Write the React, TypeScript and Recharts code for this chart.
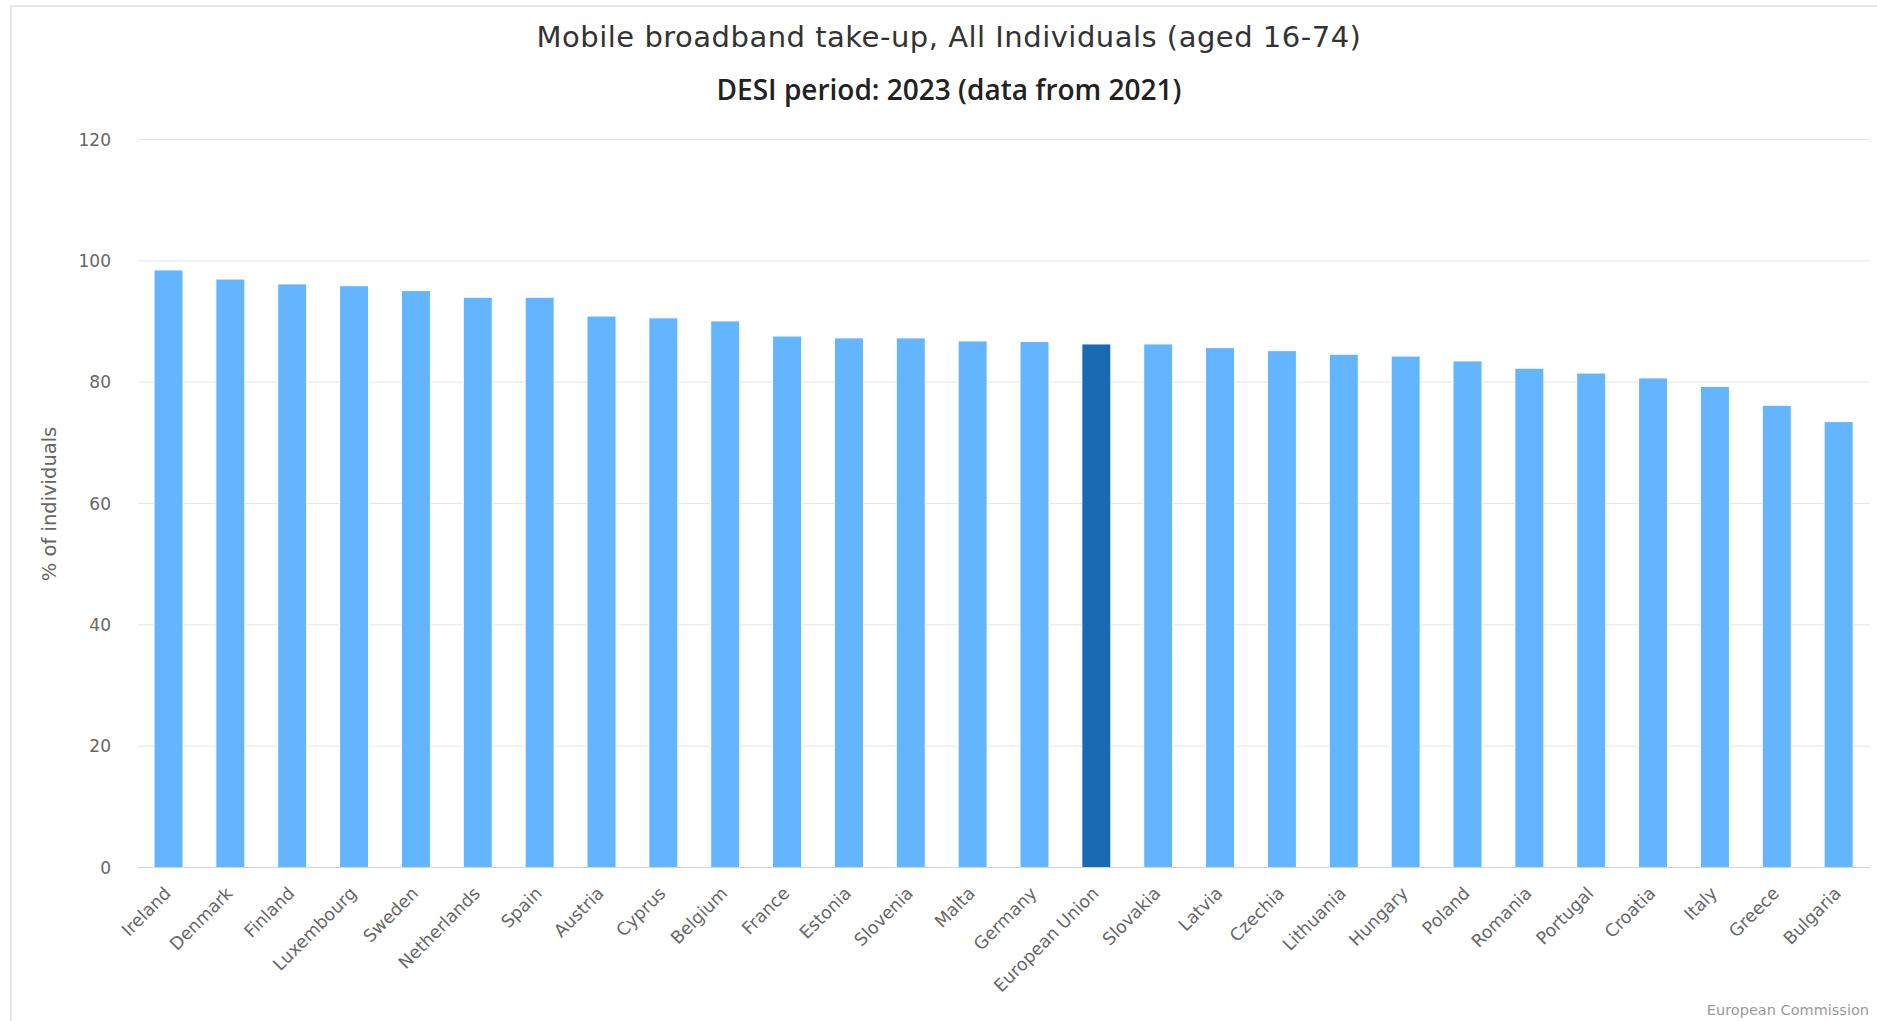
import { Bar, BarChart, CartesianGrid, Cell, XAxis, YAxis } from "recharts"

const countries = [
  "Ireland", "Denmark", "Finland", "Luxembourg", "Sweden", "Netherlands", "Spain",
  "Austria", "Cyprus", "Belgium", "France", "Estonia", "Slovenia", "Malta", "Germany",
  "European Union", "Slovakia", "Latvia", "Czechia", "Lithuania", "Hungary", "Poland",
  "Romania", "Portugal", "Croatia", "Italy", "Greece", "Bulgaria",
]

const takeUp = [
  98.5, 97.0, 96.2, 95.9, 95.1, 94.0, 94.0,
  90.9, 90.6, 90.1, 87.6, 87.3, 87.3, 86.8, 86.7,
  86.3, 86.3, 85.7, 85.2, 84.6, 84.3, 83.5,
  82.3, 81.5, 80.7, 79.3, 76.2, 73.5,
]

const yTicks = [0, 20, 40, 60, 80, 100, 120]

const data = countries.map((name, i) => ({ name, value: takeUp[i] }))

const FONT = "'DejaVu Sans', Verdana, sans-serif"
const BAR = "#64B5FF"
const BAR_EU = "#186BB2"

function XTick({ x, y, payload }: any) {
  const ax = x + 3
  const ay = y + 27
  return (
    <text
      x={ax}
      y={ay}
      transform={`rotate(-45 ${ax} ${ay})`}
      textAnchor="end"
      fill="#666"
      fontSize={17.5}
      fontFamily={FONT}
    >
      {payload.value}
    </text>
  )
}

export default function App() {
  return (
    <div style={{ position: "absolute", left: 0, top: 0, width: 1877, height: 1021, background: "#fff", overflow: "hidden", fontFamily: FONT }}>
      <div
        style={{
          position: "absolute",
          left: 10,
          top: 5,
          width: 1900,
          height: 1100,
          borderLeft: "2px solid #e6e6e6",
          borderTop: "2px solid #e6e6e6",
        }}
      />
      <div style={{ position: "absolute", left: 0, top: 0 }}>
        <BarChart width={1877} height={1021} data={data} margin={{ top: 139.5, right: 7, bottom: 0, left: 0 }}>
          <CartesianGrid vertical={false} stroke="#e6e6e6" />
          <XAxis
            dataKey="name"
            interval={0}
            height={153.5}
            tickLine={false}
            tickSize={0}
            tickMargin={0}
            axisLine={{ stroke: "#ccd6eb" }}
            tick={<XTick />}
          />
          <YAxis
            width={138}
            domain={[0, 120]}
            ticks={yTicks}
            axisLine={false}
            tickLine={false}
            tickSize={6}
            tickMargin={21}
            tick={{ fill: "#666", fontSize: 17, fontFamily: FONT }}
          />
          <Bar dataKey="value" barSize={29} stroke="#ffffff" strokeWidth={1} isAnimationActive={false}>
            {data.map((d, i) => (
              <Cell key={`cell-${i}`} fill={d.name === "European Union" ? BAR_EU : BAR} />
            ))}
          </Bar>
        </BarChart>
      </div>
      <svg width={1877} height={1021} style={{ position: "absolute", left: 0, top: 0, pointerEvents: "none" }}>
        <text x={949} y={47} textAnchor="middle" fill="#333" fontSize={29} letterSpacing={0.5} fontFamily={FONT}>
          Mobile broadband take-up, All Individuals (aged 16-74)
        </text>
        <text x={949} y={100} textAnchor="middle" fill="#222" fontSize={28} fontWeight={600} fontFamily="'Open Sans', sans-serif">
          DESI period: 2023 (data from 2021)
        </text>
        <text
          x={49}
          y={504}
          transform="rotate(-90 49 504)"
          textAnchor="middle"
          dominantBaseline="central"
          fill="#666"
          fontSize={19.5}
          fontFamily={FONT}
        >
          % of individuals
        </text>
        <text x={1869} y={1015} textAnchor="end" fill="#999" fontSize={14.5} fontFamily={FONT}>
          European Commission
        </text>
      </svg>
    </div>
  )
}
